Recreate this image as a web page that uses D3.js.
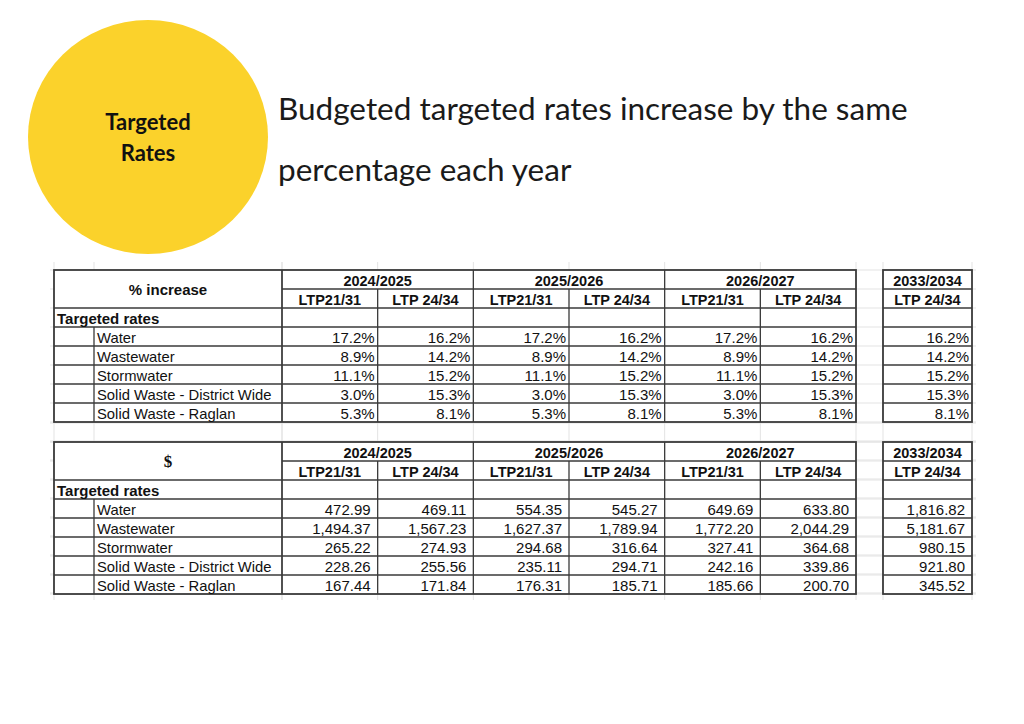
<!DOCTYPE html>
<html><head><meta charset="utf-8">
<script src="https://cdn.jsdelivr.net/npm/d3@7"></script>
<style>html,body{margin:0;padding:0;background:#fff;}svg{display:block;}</style>
</head><body>
<script>
// ---------- data ----------
const badge = ["Targeted", "Rates"];
const titleLines = ["Budgeted targeted rates increase by the same", "percentage each year"];
const years = ["2024/2025", "2025/2026", "2026/2027"];
const lastYear = "2033/2034";
const plans = ["LTP21/31", "LTP 24/34"];
const categories = ["Water", "Wastewater", "Stormwater", "Solid Waste - District Wide", "Solid Waste - Raglan"];
const groupLabel = "Targeted rates";

// % increase
const pct2024_LTP2131 = [17.2, 8.9, 11.1, 3.0, 5.3];
const pct2024_LTP2434 = [16.2, 14.2, 15.2, 15.3, 8.1];
const pct2025_LTP2131 = [17.2, 8.9, 11.1, 3.0, 5.3];
const pct2025_LTP2434 = [16.2, 14.2, 15.2, 15.3, 8.1];
const pct2026_LTP2131 = [17.2, 8.9, 11.1, 3.0, 5.3];
const pct2026_LTP2434 = [16.2, 14.2, 15.2, 15.3, 8.1];
const pct2033_LTP2434 = [16.2, 14.2, 15.2, 15.3, 8.1];

// $
const usd2024_LTP2131 = [472.99, 1494.37, 265.22, 228.26, 167.44];
const usd2024_LTP2434 = [469.11, 1567.23, 274.93, 255.56, 171.84];
const usd2025_LTP2131 = [554.35, 1627.37, 294.68, 235.11, 176.31];
const usd2025_LTP2434 = [545.27, 1789.94, 316.64, 294.71, 185.71];
const usd2026_LTP2131 = [649.69, 1772.20, 327.41, 242.16, 185.66];
const usd2026_LTP2434 = [633.80, 2044.29, 364.68, 339.86, 200.70];
const usd2033_LTP2434 = [1816.82, 5181.67, 980.15, 921.80, 345.52];

// ---------- drawing ----------
const W = 1024, H = 724;
const svg = d3.select("body").append("svg").attr("width", W).attr("height", H);

// badge circle
svg.append("ellipse").attr("cx", 148).attr("cy", 137).attr("rx", 120).attr("ry", 117)
  .attr("fill", "#FBD22B");
svg.selectAll("text.badge").data(badge).join("text").attr("class", "badge")
  .attr("x", 148).attr("y", (d, i) => 130 + i * 31)
  .attr("text-anchor", "middle")
  .style("font-family", "Lato, 'Open Sans', sans-serif").style("font-weight", 700)
  .style("font-size", "22px").attr("fill", "#111").text(d => d);

// title
const tl = svg.selectAll("text.title").data(titleLines).join("text").attr("class", "title")
  .attr("x", 278).attr("y", (d, i) => 120 + i * 61)
  .style("font-family", "Lato, 'Open Sans', sans-serif")
  .style("font-size", "30px").attr("fill", "#1a1a1a").text(d => d);
{
  const n = tl.nodes()[0];
  const w = n.getComputedTextLength();
  const fs = 30 * 630 / w;
  tl.style("font-size", fs + "px");
}

const colKeys = [];
years.forEach(y => plans.forEach(p => colKeys.push(y + "|" + p)));
const x = d3.scaleBand().domain(colKeys).range([282, 856]).paddingInner(0);
const xLast = d3.scaleBand().domain([lastYear + "|" + plans[1]]).range([883, 972]);
const labelLeft = 54, indentX = 94, labelRight = 282;

const pctCols = {
  "2024/2025|LTP21/31": pct2024_LTP2131, "2024/2025|LTP 24/34": pct2024_LTP2434,
  "2025/2026|LTP21/31": pct2025_LTP2131, "2025/2026|LTP 24/34": pct2025_LTP2434,
  "2026/2027|LTP21/31": pct2026_LTP2131, "2026/2027|LTP 24/34": pct2026_LTP2434,
  "2033/2034|LTP 24/34": pct2033_LTP2434
};
const usdCols = {
  "2024/2025|LTP21/31": usd2024_LTP2131, "2024/2025|LTP 24/34": usd2024_LTP2434,
  "2025/2026|LTP21/31": usd2025_LTP2131, "2025/2026|LTP 24/34": usd2025_LTP2434,
  "2026/2027|LTP21/31": usd2026_LTP2131, "2026/2027|LTP 24/34": usd2026_LTP2434,
  "2033/2034|LTP 24/34": usd2033_LTP2434
};

const rowKeys = ["h1", "h2", "group"].concat(categories);
const gridColor = "#e3e3e3", lineColor = "#3a3a3a";
const FONT = "'Liberation Sans', Arial, sans-serif";

// faint spreadsheet gridlines in background
const bgX = [labelLeft, indentX, labelRight].concat(colKeys.map(k => x(k)), [856, 883, 972]);
svg.append("g").selectAll("line").data(bgX).join("line")
  .attr("x1", d => d).attr("x2", d => d).attr("y1", 262).attr("y2", 600)
  .attr("stroke", gridColor).attr("stroke-width", 1);
const bgY = d3.range(270, 600, 19).concat(d3.range(442, 600, 19));
svg.append("g").selectAll("line").data([...bgY, 423, 442]).join("line")
  .attr("y1", d => d).attr("y2", d => d).attr("x1", 50).attr("x2", 976)
  .attr("stroke", gridColor).attr("stroke-width", 1);

function drawTable(top, headLabel, headFont, headSize, cols, fmt, padR) {
  const y = d3.scaleBand().domain(rowKeys).range([top, top + 19 * rowKeys.length]);
  const bottom = y.range()[1];
  const g = svg.append("g");
  const allCols = colKeys.map(k => ({ k, s: x })).concat([{ k: xLast.domain()[0], s: xLast }]);

  const L = (x1, y1, x2, y2, w) => g.append("line").attr("x1", x1).attr("y1", y1).attr("x2", x2).attr("y2", y2)
    .attr("stroke", lineColor).attr("stroke-width", w || 1.3);

  // main block fill + borders
  [[labelLeft, 856], [883, 972]].forEach(([a, b]) => {
    g.append("rect").attr("x", a).attr("y", top).attr("width", b - a).attr("height", bottom - top)
      .attr("fill", "#fff").attr("stroke", lineColor).attr("stroke-width", 1.8);
  });
  rowKeys.slice(2).forEach(r => {
    L(labelLeft, y(r), 856, y(r));
    L(883, y(r), 972, y(r));
  });
  L(labelRight, y("h2"), 856, y("h2"));
  L(883, y("h2"), 972, y("h2"));
  L(labelRight, top, labelRight, bottom);
  years.forEach(yr => L(x(yr + "|" + plans[0]), top, x(yr + "|" + plans[0]), bottom));
  years.forEach(yr => L(x(yr + "|" + plans[1]), y("h2"), x(yr + "|" + plans[1]), bottom));
  L(indentX, y(categories[0]), indentX, bottom);

  const T = (sel) => sel.style("font-family", FONT).attr("fill", "#111");

  T(g.append("text")).attr("x", (labelLeft + labelRight) / 2).attr("y", top + 24.5).attr("text-anchor", "middle")
    .style("font-family", headFont).style("font-weight", 700).style("font-size", headSize).text(headLabel);
  T(g.selectAll("text.yr").data(years).join("text")).attr("class", "yr")
    .attr("x", d => x(d + "|" + plans[0]) + x.bandwidth()).attr("y", top + 15.5).attr("text-anchor", "middle")
    .style("font-weight", 700).style("font-size", "14.5px").text(d => d);
  T(g.append("text")).attr("x", xLast(xLast.domain()[0]) + xLast.bandwidth() / 2).attr("y", top + 15.5)
    .attr("text-anchor", "middle").style("font-weight", 700).style("font-size", "14.5px").text(lastYear);
  T(g.selectAll("text.pl").data(allCols).join("text")).attr("class", "pl")
    .attr("x", d => d.s(d.k) + d.s.bandwidth() / 2).attr("y", top + 34.5).attr("text-anchor", "middle")
    .style("font-weight", 700).style("font-size", "14.5px").text(d => d.k.split("|")[1]);

  T(g.append("text")).attr("x", labelLeft + 3).attr("y", y("group") + 15.5)
    .style("font-weight", 700).style("font-size", "15px").text(groupLabel);
  T(g.selectAll("text.cat").data(categories).join("text")).attr("class", "cat")
    .attr("x", indentX + 3).attr("y", d => y(d) + 15.5)
    .style("font-size", "14.8px").text(d => d);

  allCols.forEach(c => {
    T(g.selectAll(null).data(cols[c.k]).join("text"))
      .attr("x", c.s(c.k) + c.s.bandwidth() - padR).attr("y", (d, i) => y(categories[i]) + 15.5)
      .attr("text-anchor", "end").style("font-size", "15px").text(d => fmt(d));
  });
}

drawTable(270, "% increase", FONT, "15px", pctCols, d => d3.format(".1f")(d) + "%", 3);
drawTable(442, "$", "'Liberation Serif', 'Times New Roman', serif", "17px", usdCols, d => d3.format(",.2f")(d), 7);
</script>
</body></html>
